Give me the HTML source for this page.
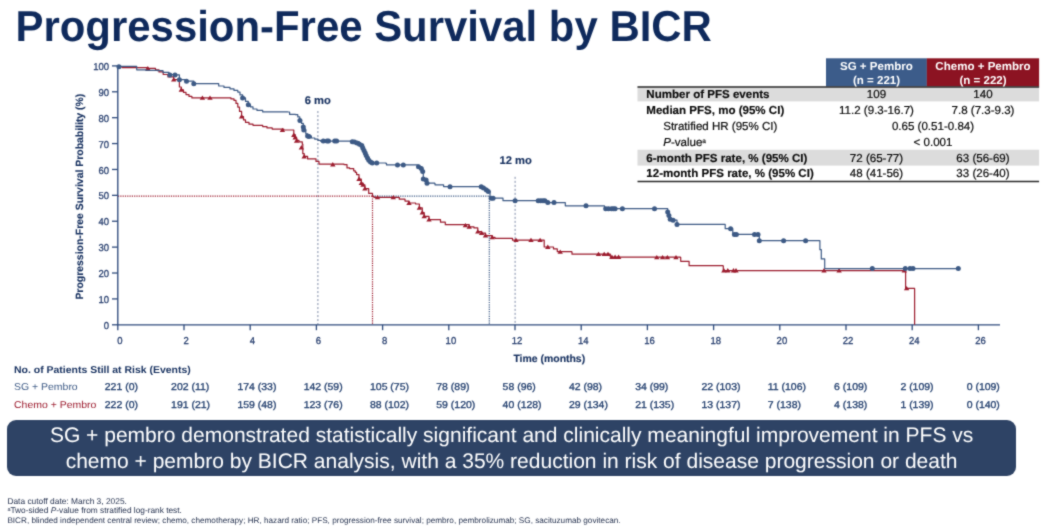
<!DOCTYPE html>
<html><head><meta charset="utf-8"><title>Progression-Free Survival by BICR</title>
<style>
html,body{margin:0;padding:0;background:#fff}
body{width:1045px;height:526px;position:relative;overflow:hidden;text-rendering:geometricPrecision;font-family:"Liberation Sans",Arial,sans-serif}
#title{position:absolute;left:15.5px;top:2px;transform:translateY(-0.3px) scaleY(1.03);transform-origin:50% 50%;font-size:41.92px;font-weight:bold;color:#0f2a5c;line-height:50px;white-space:nowrap;letter-spacing:0}
#banner{position:absolute;left:7.4px;top:420.1px;width:1008.4px;height:55.5px;background:#2e4365;border-radius:9px;color:#fff;font-size:21.03px;line-height:26.2px;text-align:center;white-space:nowrap}
#banner div{position:absolute;left:0;right:0;transform:translateY(0.7px)}
#foot{position:absolute;left:7.4px;top:496.8px;transform:translateY(-0.3px);font-size:8.2px;line-height:9.2px;color:#1f2c4a;white-space:nowrap}
#foot span{display:block;height:9.25px;line-height:9.25px}
#foot sup{font-size:5.5px;vertical-align:baseline;position:relative;top:-2.5px}
#wrap{position:absolute;left:0;top:0;width:1045px;height:526px;filter:url(#bl);background:#fff}
</style></head><body><svg width="0" height="0" style="position:absolute"><filter id="bl" x="0" y="0" width="100%" height="100%" color-interpolation-filters="sRGB"><feConvolveMatrix order="3" kernelMatrix="1 3 1 3 16 3 1 3 1" divisor="32" edgeMode="duplicate" preserveAlpha="true"/></filter></svg><div id="wrap">
<div id="title">Progression-Free Survival by BICR</div>
<svg width="1045" height="526" viewBox="0 0 1045 526" style="position:absolute;left:0;top:0" text-rendering="geometricPrecision" font-family="'Liberation Sans', Arial, sans-serif">
<line x1="317.9" y1="111" x2="317.9" y2="324.8" stroke="#3a4f7a" stroke-width="0.85" stroke-opacity="0.75" stroke-dasharray="2.1 1.9"/>
<line x1="515.1" y1="176.8" x2="515.1" y2="324.8" stroke="#3a4f7a" stroke-width="0.85" stroke-opacity="0.75" stroke-dasharray="2.1 1.9"/>
<line x1="372.5" y1="196.1" x2="489.3" y2="196.1" stroke="#3d5a85" stroke-width="1.2" stroke-dasharray="1.2 1.1"/>
<line x1="489.3" y1="196.1" x2="489.3" y2="324.8" stroke="#3d5a85" stroke-width="1.2" stroke-dasharray="1.2 1.1"/>
<line x1="118" y1="196.1" x2="372.5" y2="196.1" stroke="#9c1c2e" stroke-width="1.2" stroke-dasharray="1.2 1.1"/>
<line x1="372.5" y1="196.1" x2="372.5" y2="324.8" stroke="#9c1c2e" stroke-width="1.2" stroke-dasharray="1.2 1.1"/>
<path d="M117.8,65.3V324.8H1000" fill="none" stroke="#2f4b7c" stroke-width="1.35"/>
<line x1="112" y1="324.80" x2="117.8" y2="324.80" stroke="#2f4b7c" stroke-width="1.3"/>
<text transform="translate(109,328.90) scale(0.95,1)" text-anchor="end" font-size="10" fill="#2a4170" stroke="#2a4170" stroke-width="0.3">0</text>
<line x1="112" y1="298.91" x2="117.8" y2="298.91" stroke="#2f4b7c" stroke-width="1.3"/>
<text transform="translate(109,303.01) scale(0.95,1)" text-anchor="end" font-size="10" fill="#2a4170" stroke="#2a4170" stroke-width="0.3">10</text>
<line x1="112" y1="273.02" x2="117.8" y2="273.02" stroke="#2f4b7c" stroke-width="1.3"/>
<text transform="translate(109,277.12) scale(0.95,1)" text-anchor="end" font-size="10" fill="#2a4170" stroke="#2a4170" stroke-width="0.3">20</text>
<line x1="112" y1="247.13" x2="117.8" y2="247.13" stroke="#2f4b7c" stroke-width="1.3"/>
<text transform="translate(109,251.23) scale(0.95,1)" text-anchor="end" font-size="10" fill="#2a4170" stroke="#2a4170" stroke-width="0.3">30</text>
<line x1="112" y1="221.24" x2="117.8" y2="221.24" stroke="#2f4b7c" stroke-width="1.3"/>
<text transform="translate(109,225.34) scale(0.95,1)" text-anchor="end" font-size="10" fill="#2a4170" stroke="#2a4170" stroke-width="0.3">40</text>
<line x1="112" y1="195.35" x2="117.8" y2="195.35" stroke="#2f4b7c" stroke-width="1.3"/>
<text transform="translate(109,199.45) scale(0.95,1)" text-anchor="end" font-size="10" fill="#2a4170" stroke="#2a4170" stroke-width="0.3">50</text>
<line x1="112" y1="169.46" x2="117.8" y2="169.46" stroke="#2f4b7c" stroke-width="1.3"/>
<text transform="translate(109,173.56) scale(0.95,1)" text-anchor="end" font-size="10" fill="#2a4170" stroke="#2a4170" stroke-width="0.3">60</text>
<line x1="112" y1="143.57" x2="117.8" y2="143.57" stroke="#2f4b7c" stroke-width="1.3"/>
<text transform="translate(109,147.67) scale(0.95,1)" text-anchor="end" font-size="10" fill="#2a4170" stroke="#2a4170" stroke-width="0.3">70</text>
<line x1="112" y1="117.68" x2="117.8" y2="117.68" stroke="#2f4b7c" stroke-width="1.3"/>
<text transform="translate(109,121.78) scale(0.95,1)" text-anchor="end" font-size="10" fill="#2a4170" stroke="#2a4170" stroke-width="0.3">80</text>
<line x1="112" y1="91.79" x2="117.8" y2="91.79" stroke="#2f4b7c" stroke-width="1.3"/>
<text transform="translate(109,95.89) scale(0.95,1)" text-anchor="end" font-size="10" fill="#2a4170" stroke="#2a4170" stroke-width="0.3">90</text>
<line x1="112" y1="65.90" x2="117.8" y2="65.90" stroke="#2f4b7c" stroke-width="1.3"/>
<text transform="translate(109,70.00) scale(0.95,1)" text-anchor="end" font-size="10" fill="#2a4170" stroke="#2a4170" stroke-width="0.3">100</text>
<line x1="117.80" y1="324.8" x2="117.80" y2="330.2" stroke="#2f4b7c" stroke-width="1.3"/>
<text transform="translate(119.90,344) scale(0.95,1)" text-anchor="middle" font-size="10" fill="#2a4170" stroke="#2a4170" stroke-width="0.3">0</text>
<line x1="184.00" y1="324.8" x2="184.00" y2="330.2" stroke="#2f4b7c" stroke-width="1.3"/>
<text transform="translate(186.10,344) scale(0.95,1)" text-anchor="middle" font-size="10" fill="#2a4170" stroke="#2a4170" stroke-width="0.3">2</text>
<line x1="250.20" y1="324.8" x2="250.20" y2="330.2" stroke="#2f4b7c" stroke-width="1.3"/>
<text transform="translate(252.30,344) scale(0.95,1)" text-anchor="middle" font-size="10" fill="#2a4170" stroke="#2a4170" stroke-width="0.3">4</text>
<line x1="316.40" y1="324.8" x2="316.40" y2="330.2" stroke="#2f4b7c" stroke-width="1.3"/>
<text transform="translate(318.50,344) scale(0.95,1)" text-anchor="middle" font-size="10" fill="#2a4170" stroke="#2a4170" stroke-width="0.3">6</text>
<line x1="382.60" y1="324.8" x2="382.60" y2="330.2" stroke="#2f4b7c" stroke-width="1.3"/>
<text transform="translate(384.70,344) scale(0.95,1)" text-anchor="middle" font-size="10" fill="#2a4170" stroke="#2a4170" stroke-width="0.3">8</text>
<line x1="448.80" y1="324.8" x2="448.80" y2="330.2" stroke="#2f4b7c" stroke-width="1.3"/>
<text transform="translate(450.90,344) scale(0.95,1)" text-anchor="middle" font-size="10" fill="#2a4170" stroke="#2a4170" stroke-width="0.3">10</text>
<line x1="515.00" y1="324.8" x2="515.00" y2="330.2" stroke="#2f4b7c" stroke-width="1.3"/>
<text transform="translate(517.10,344) scale(0.95,1)" text-anchor="middle" font-size="10" fill="#2a4170" stroke="#2a4170" stroke-width="0.3">12</text>
<line x1="581.20" y1="324.8" x2="581.20" y2="330.2" stroke="#2f4b7c" stroke-width="1.3"/>
<text transform="translate(583.30,344) scale(0.95,1)" text-anchor="middle" font-size="10" fill="#2a4170" stroke="#2a4170" stroke-width="0.3">14</text>
<line x1="647.40" y1="324.8" x2="647.40" y2="330.2" stroke="#2f4b7c" stroke-width="1.3"/>
<text transform="translate(649.50,344) scale(0.95,1)" text-anchor="middle" font-size="10" fill="#2a4170" stroke="#2a4170" stroke-width="0.3">16</text>
<line x1="713.60" y1="324.8" x2="713.60" y2="330.2" stroke="#2f4b7c" stroke-width="1.3"/>
<text transform="translate(715.70,344) scale(0.95,1)" text-anchor="middle" font-size="10" fill="#2a4170" stroke="#2a4170" stroke-width="0.3">18</text>
<line x1="779.80" y1="324.8" x2="779.80" y2="330.2" stroke="#2f4b7c" stroke-width="1.3"/>
<text transform="translate(781.90,344) scale(0.95,1)" text-anchor="middle" font-size="10" fill="#2a4170" stroke="#2a4170" stroke-width="0.3">20</text>
<line x1="846.00" y1="324.8" x2="846.00" y2="330.2" stroke="#2f4b7c" stroke-width="1.3"/>
<text transform="translate(848.10,344) scale(0.95,1)" text-anchor="middle" font-size="10" fill="#2a4170" stroke="#2a4170" stroke-width="0.3">22</text>
<line x1="912.20" y1="324.8" x2="912.20" y2="330.2" stroke="#2f4b7c" stroke-width="1.3"/>
<text transform="translate(914.30,344) scale(0.95,1)" text-anchor="middle" font-size="10" fill="#2a4170" stroke="#2a4170" stroke-width="0.3">24</text>
<line x1="978.40" y1="324.8" x2="978.40" y2="330.2" stroke="#2f4b7c" stroke-width="1.3"/>
<text transform="translate(980.50,344) scale(0.95,1)" text-anchor="middle" font-size="10" fill="#2a4170" stroke="#2a4170" stroke-width="0.3">26</text>
<path d="M117.8,66.7H122.0V67.6H143.0V67.6H147.8V68.4H155.5V69.8H159.0V71.9H163.2V74.5H168.0V76.9H173.7V79.7H178.5V81.2H179.4V87.0H181.3V89.8H183.5V92.4H186.0V94.6H189.0V96.4H191.9V97.9H228.2V97.9H231.0V98.9H234.0V100.4H236.0V103.4H237.8V107.1H239.5V111.4H241.6V116.6H243.5V119.9H245.5V122.4H249.0V124.2H253.0V125.3H262.7V126.6H267.0V127.9H272.2V129.1H283.7V130.0H292.4V130.0H293.8V134.6H295.2V137.4H296.6V140.4H299.0V141.8H302.3V144.2H302.8V153.7H304.2V156.4H307.6V158.9H313.7V158.9H316.0V161.4H319.0V164.1H344.0V164.6H347.0V167.9H349.6V168.6H353.7V170.8H355.3V172.4H356.6V174.6H359.0V179.1H361.3V183.2H363.0V184.9H364.9V188.7H368.7V193.4H372.5V196.4H374.0V197.4H395.0V197.4H399.3V199.2H405.0V201.1H409.0V203.0H415.6V204.0H419.4V207.8H422.3V212.6H424.2V216.4H429.0V219.7H439.5V219.7H440.5V222.2H445.3V224.7H464.4V224.7H469.2V226.9H474.0V227.9H477.8V231.7H481.6V233.1H485.5V235.6H492.2V237.4H495.0V238.4H512.2V238.4H512.5V240.2H543.9V240.2H544.2V247.0H549.0V247.0H553.5V248.9H557.3V251.7H571.7V251.9H572.0V254.2H610.0V254.2H610.3V257.1H680.4V257.4H680.7V261.3H688.8V261.3H689.1V265.7H723.0V265.9H723.3V270.6H905.3V270.6H905.6V288.4H914.3V288.4H914.6V324.7" fill="none" stroke="#9c1c2e" stroke-width="1.2" stroke-linejoin="round"/>
<path d="M145.1,70.3H150.5L147.8,65.9Z" fill="#9c1c2e"/>
<path d="M171.0,81.6H176.4L173.7,77.2Z" fill="#9c1c2e"/>
<path d="M178.6,91.7H184.0L181.3,87.3Z" fill="#9c1c2e"/>
<path d="M199.7,99.8H205.1L202.4,95.4Z" fill="#9c1c2e"/>
<path d="M207.3,99.8H212.7L210.0,95.4Z" fill="#9c1c2e"/>
<path d="M238.9,118.5H244.3L241.6,114.1Z" fill="#9c1c2e"/>
<path d="M279.7,132.1H285.1L282.4,127.7Z" fill="#9c1c2e"/>
<path d="M291.1,137.0H296.5L293.8,132.6Z" fill="#9c1c2e"/>
<path d="M292.5,139.4H297.9L295.2,135.0Z" fill="#9c1c2e"/>
<path d="M293.9,142.7H299.3L296.6,138.3Z" fill="#9c1c2e"/>
<path d="M298.7,149.4H304.1L301.4,145.0Z" fill="#9c1c2e"/>
<path d="M301.5,158.4H306.9L304.2,154.0Z" fill="#9c1c2e"/>
<path d="M330.1,166.5H335.5L332.8,162.1Z" fill="#9c1c2e"/>
<path d="M356.3,181.0H361.7L359.0,176.6Z" fill="#9c1c2e"/>
<path d="M358.6,185.1H364.0L361.3,180.7Z" fill="#9c1c2e"/>
<path d="M360.3,186.8H365.7L363.0,182.4Z" fill="#9c1c2e"/>
<path d="M362.2,190.6H367.6L364.9,186.2Z" fill="#9c1c2e"/>
<path d="M374.8,199.3H380.2L377.5,194.9Z" fill="#9c1c2e"/>
<path d="M390.6,199.3H396.0L393.3,194.9Z" fill="#9c1c2e"/>
<path d="M406.3,204.9H411.7L409.0,200.5Z" fill="#9c1c2e"/>
<path d="M416.7,209.7H422.1L419.4,205.3Z" fill="#9c1c2e"/>
<path d="M419.6,214.5H425.0L422.3,210.1Z" fill="#9c1c2e"/>
<path d="M421.5,218.3H426.9L424.2,213.9Z" fill="#9c1c2e"/>
<path d="M426.3,221.6H431.7L429.0,217.2Z" fill="#9c1c2e"/>
<path d="M462.7,227.3H468.1L465.4,222.9Z" fill="#9c1c2e"/>
<path d="M466.5,228.8H471.9L469.2,224.4Z" fill="#9c1c2e"/>
<path d="M475.1,233.6H480.5L477.8,229.2Z" fill="#9c1c2e"/>
<path d="M478.9,235.0H484.3L481.6,230.6Z" fill="#9c1c2e"/>
<path d="M482.8,237.5H488.2L485.5,233.1Z" fill="#9c1c2e"/>
<path d="M489.5,239.3H494.9L492.2,234.9Z" fill="#9c1c2e"/>
<path d="M513.3,242.1H518.7L516.0,237.7Z" fill="#9c1c2e"/>
<path d="M528.3,242.1H533.7L531.0,237.7Z" fill="#9c1c2e"/>
<path d="M537.4,242.1H542.8L540.1,237.7Z" fill="#9c1c2e"/>
<path d="M545.1,248.9H550.5L547.8,244.5Z" fill="#9c1c2e"/>
<path d="M557.5,253.8H562.9L560.2,249.4Z" fill="#9c1c2e"/>
<path d="M595.8,256.1H601.2L598.5,251.7Z" fill="#9c1c2e"/>
<path d="M601.5,256.1H606.9L604.2,251.7Z" fill="#9c1c2e"/>
<path d="M605.3,256.1H610.7L608.0,251.7Z" fill="#9c1c2e"/>
<path d="M609.2,259.0H614.6L611.9,254.6Z" fill="#9c1c2e"/>
<path d="M612.4,259.0H617.8L615.1,254.6Z" fill="#9c1c2e"/>
<path d="M615.9,259.0H621.3L618.6,254.6Z" fill="#9c1c2e"/>
<path d="M654.1,259.3H659.5L656.8,254.9Z" fill="#9c1c2e"/>
<path d="M659.9,259.3H665.3L662.6,254.9Z" fill="#9c1c2e"/>
<path d="M664.7,259.3H670.1L667.4,254.9Z" fill="#9c1c2e"/>
<path d="M673.3,259.3H678.7L676.0,254.9Z" fill="#9c1c2e"/>
<path d="M721.2,272.5H726.6L723.9,268.1Z" fill="#9c1c2e"/>
<path d="M725.1,272.5H730.5L727.8,268.1Z" fill="#9c1c2e"/>
<path d="M730.8,272.5H736.2L733.5,268.1Z" fill="#9c1c2e"/>
<path d="M733.3,272.5H738.7L736.0,268.1Z" fill="#9c1c2e"/>
<path d="M821.3,272.5H826.7L824.0,268.1Z" fill="#9c1c2e"/>
<path d="M836.4,272.5H841.8L839.1,268.1Z" fill="#9c1c2e"/>
<path d="M901.6,272.5H907.0L904.3,268.1Z" fill="#9c1c2e"/>
<path d="M903.9,290.3H909.3L906.6,285.9Z" fill="#9c1c2e"/>
<path d="M117.8,66.3H133.9V66.3H136.7V69.8H146.0V70.4H157.4V70.7H163.0V72.4H169.0V74.5H175.0V74.9H179.4V79.7H186.5V81.2H193.8V83.7H211.0V83.7H218.7V86.0H224.0V87.4H230.0V88.9H234.0V90.4H237.8V92.1H240.0V94.9H242.6V97.9H245.5V101.4H248.3V104.8H250.5V106.9H253.0V109.0H257.0V110.4H262.7V111.9H287.7V112.0H289.6V114.4H295.5V114.7H297.8V116.9H299.8V119.9H301.5V123.4H303.3V127.1H303.8V129.9H305.8V133.9H307.6V136.1H311.4V138.0H314.8V139.2H318.0V140.4H320.5V141.1H351.8V141.1H355.0V141.9H359.5V144.2H361.8V145.4H362.8V147.9H364.0V150.4H365.2V152.9H366.2V155.4H367.5V157.9H368.8V160.2H370.5V161.9H372.3V163.0H386.0V163.4H386.5V164.9H417.5V165.1H418.5V166.7H421.3V168.6H422.7V171.4H423.3V179.1H426.1V180.1H427.0V183.2H434.7V183.4H435.0V184.8H443.3V184.8H443.6V186.6H480.7V186.8H483.5V188.1H486.4V190.0H488.3V191.5H490.0V198.2H502.7V198.2H503.0V200.7H546.0V200.7H546.3V202.6H565.0V202.6H565.3V205.8H604.2V205.8H604.5V208.7H667.4V208.7H667.7V212.1H668.9V215.4H670.2V219.2H673.1V220.2H677.0V224.4H724.9V224.4H725.2V228.7H732.5V228.7H732.8V234.4H759.0V234.4H759.3V240.7H819.6V240.7H819.9V249.7H821.0V249.7H821.3V258.9H824.4V258.9H824.7V268.6H958.3V268.6" fill="none" stroke="#3d5a85" stroke-width="1.2" stroke-linejoin="round"/>
<circle cx="118.9" cy="66.8" r="2.5" fill="#3d5a85"/>
<circle cx="169.9" cy="74.9" r="2.5" fill="#3d5a85"/>
<circle cx="175.0" cy="74.9" r="2.5" fill="#3d5a85"/>
<circle cx="179.4" cy="79.7" r="2.5" fill="#3d5a85"/>
<circle cx="186.5" cy="81.2" r="2.5" fill="#3d5a85"/>
<circle cx="193.8" cy="83.7" r="2.5" fill="#3d5a85"/>
<circle cx="242.6" cy="97.9" r="2.5" fill="#3d5a85"/>
<circle cx="248.3" cy="104.8" r="2.5" fill="#3d5a85"/>
<circle cx="299.9" cy="120.4" r="2.5" fill="#3d5a85"/>
<circle cx="303.3" cy="127.1" r="2.5" fill="#3d5a85"/>
<circle cx="303.8" cy="129.9" r="2.5" fill="#3d5a85"/>
<circle cx="307.6" cy="136.1" r="2.5" fill="#3d5a85"/>
<circle cx="309.0" cy="136.6" r="2.5" fill="#3d5a85"/>
<circle cx="323.3" cy="141.0" r="2.5" fill="#3d5a85"/>
<circle cx="327.0" cy="141.1" r="2.5" fill="#3d5a85"/>
<circle cx="328.5" cy="141.1" r="2.5" fill="#3d5a85"/>
<circle cx="334.7" cy="141.1" r="2.5" fill="#3d5a85"/>
<circle cx="336.6" cy="141.1" r="2.5" fill="#3d5a85"/>
<circle cx="352.3" cy="141.7" r="2.5" fill="#3d5a85"/>
<circle cx="354.5" cy="141.9" r="2.5" fill="#3d5a85"/>
<circle cx="357.0" cy="142.9" r="2.5" fill="#3d5a85"/>
<circle cx="359.5" cy="144.2" r="2.5" fill="#3d5a85"/>
<circle cx="361.8" cy="145.4" r="2.5" fill="#3d5a85"/>
<circle cx="362.8" cy="147.9" r="2.5" fill="#3d5a85"/>
<circle cx="364.0" cy="150.4" r="2.5" fill="#3d5a85"/>
<circle cx="365.2" cy="152.9" r="2.5" fill="#3d5a85"/>
<circle cx="366.2" cy="155.4" r="2.5" fill="#3d5a85"/>
<circle cx="367.5" cy="157.9" r="2.5" fill="#3d5a85"/>
<circle cx="368.8" cy="160.2" r="2.5" fill="#3d5a85"/>
<circle cx="370.5" cy="161.9" r="2.5" fill="#3d5a85"/>
<circle cx="372.3" cy="163.0" r="2.5" fill="#3d5a85"/>
<circle cx="376.7" cy="163.0" r="2.5" fill="#3d5a85"/>
<circle cx="397.5" cy="165.1" r="2.5" fill="#3d5a85"/>
<circle cx="403.3" cy="165.1" r="2.5" fill="#3d5a85"/>
<circle cx="418.5" cy="166.7" r="2.5" fill="#3d5a85"/>
<circle cx="421.3" cy="168.6" r="2.5" fill="#3d5a85"/>
<circle cx="422.7" cy="171.4" r="2.5" fill="#3d5a85"/>
<circle cx="423.3" cy="179.1" r="2.5" fill="#3d5a85"/>
<circle cx="426.1" cy="180.1" r="2.5" fill="#3d5a85"/>
<circle cx="427.0" cy="183.2" r="2.5" fill="#3d5a85"/>
<circle cx="450.0" cy="186.8" r="2.5" fill="#3d5a85"/>
<circle cx="481.2" cy="186.8" r="2.5" fill="#3d5a85"/>
<circle cx="483.5" cy="188.1" r="2.5" fill="#3d5a85"/>
<circle cx="486.4" cy="190.0" r="2.5" fill="#3d5a85"/>
<circle cx="488.3" cy="191.5" r="2.5" fill="#3d5a85"/>
<circle cx="491.2" cy="198.2" r="2.5" fill="#3d5a85"/>
<circle cx="493.1" cy="198.2" r="2.5" fill="#3d5a85"/>
<circle cx="515.1" cy="200.7" r="2.5" fill="#3d5a85"/>
<circle cx="538.2" cy="200.7" r="2.5" fill="#3d5a85"/>
<circle cx="540.7" cy="200.7" r="2.5" fill="#3d5a85"/>
<circle cx="543.0" cy="200.7" r="2.5" fill="#3d5a85"/>
<circle cx="544.9" cy="200.7" r="2.5" fill="#3d5a85"/>
<circle cx="547.8" cy="202.6" r="2.5" fill="#3d5a85"/>
<circle cx="554.0" cy="202.6" r="2.5" fill="#3d5a85"/>
<circle cx="586.0" cy="205.8" r="2.5" fill="#3d5a85"/>
<circle cx="605.7" cy="208.7" r="2.5" fill="#3d5a85"/>
<circle cx="608.4" cy="208.7" r="2.5" fill="#3d5a85"/>
<circle cx="611.5" cy="208.7" r="2.5" fill="#3d5a85"/>
<circle cx="613.4" cy="208.7" r="2.5" fill="#3d5a85"/>
<circle cx="615.1" cy="208.7" r="2.5" fill="#3d5a85"/>
<circle cx="622.4" cy="208.7" r="2.5" fill="#3d5a85"/>
<circle cx="654.5" cy="208.7" r="2.5" fill="#3d5a85"/>
<circle cx="667.7" cy="212.1" r="2.5" fill="#3d5a85"/>
<circle cx="668.9" cy="215.4" r="2.5" fill="#3d5a85"/>
<circle cx="670.2" cy="219.2" r="2.5" fill="#3d5a85"/>
<circle cx="673.1" cy="220.2" r="2.5" fill="#3d5a85"/>
<circle cx="677.0" cy="224.4" r="2.5" fill="#3d5a85"/>
<circle cx="730.6" cy="228.7" r="2.5" fill="#3d5a85"/>
<circle cx="734.4" cy="234.4" r="2.5" fill="#3d5a85"/>
<circle cx="736.4" cy="234.4" r="2.5" fill="#3d5a85"/>
<circle cx="754.5" cy="234.4" r="2.5" fill="#3d5a85"/>
<circle cx="758.0" cy="234.4" r="2.5" fill="#3d5a85"/>
<circle cx="759.3" cy="240.7" r="2.5" fill="#3d5a85"/>
<circle cx="783.6" cy="240.7" r="2.5" fill="#3d5a85"/>
<circle cx="805.6" cy="240.7" r="2.5" fill="#3d5a85"/>
<circle cx="872.3" cy="268.6" r="2.5" fill="#3d5a85"/>
<circle cx="905.3" cy="268.6" r="2.5" fill="#3d5a85"/>
<circle cx="910.0" cy="268.6" r="2.5" fill="#3d5a85"/>
<circle cx="913.0" cy="268.6" r="2.5" fill="#3d5a85"/>
<circle cx="958.3" cy="268.6" r="2.5" fill="#3d5a85"/>
<text x="317.8" y="103.7" text-anchor="middle" font-size="11.2" font-weight="bold" fill="#16305f" stroke="#16305f" stroke-width="0.15">6 mo</text>
<text x="515.6" y="163.7" text-anchor="middle" font-size="11.2" font-weight="bold" fill="#16305f" stroke="#16305f" stroke-width="0.15">12 mo</text>
<text transform="translate(83.3,196.65) rotate(-90)" text-anchor="middle" font-size="10.45" font-weight="bold" fill="#16305f" stroke="#16305f" stroke-width="0.15">Progression-Free Survival Probability (%)</text>
<text x="549.3" y="362" text-anchor="middle" font-size="10.45" font-weight="bold" fill="#16305f" stroke="#16305f" stroke-width="0.15">Time (months)</text>
<text transform="translate(14.0,372.8) scale(1.053,1)" font-size="9.95" font-weight="bold" fill="#16305f">No. of Patients Still at Risk (Events)</text>
<text transform="translate(14.0,390.3) scale(1.053,1)" font-size="9.95" fill="#3d5a85">SG + Pembro</text>
<text transform="translate(14.0,407.8) scale(1.053,1)" font-size="9.95" fill="#9c1c2e">Chemo + Pembro</text>
<text transform="translate(104.8,390.4) scale(1.053,1)" font-size="9.95" fill="#24406f" stroke="#24406f" stroke-width="0.3">221 (0)</text>
<text transform="translate(104.8,407.5) scale(1.053,1)" font-size="9.95" fill="#24406f" stroke="#24406f" stroke-width="0.3">222 (0)</text>
<text transform="translate(171.1,390.4) scale(1.053,1)" font-size="9.95" fill="#24406f" stroke="#24406f" stroke-width="0.3">202 (11)</text>
<text transform="translate(171.1,407.5) scale(1.053,1)" font-size="9.95" fill="#24406f" stroke="#24406f" stroke-width="0.3">191 (21)</text>
<text transform="translate(237.4,390.4) scale(1.053,1)" font-size="9.95" fill="#24406f" stroke="#24406f" stroke-width="0.3">174 (33)</text>
<text transform="translate(237.4,407.5) scale(1.053,1)" font-size="9.95" fill="#24406f" stroke="#24406f" stroke-width="0.3">159 (48)</text>
<text transform="translate(303.7,390.4) scale(1.053,1)" font-size="9.95" fill="#24406f" stroke="#24406f" stroke-width="0.3">142 (59)</text>
<text transform="translate(303.7,407.5) scale(1.053,1)" font-size="9.95" fill="#24406f" stroke="#24406f" stroke-width="0.3">123 (76)</text>
<text transform="translate(370.0,390.4) scale(1.053,1)" font-size="9.95" fill="#24406f" stroke="#24406f" stroke-width="0.3">105 (75)</text>
<text transform="translate(370.0,407.5) scale(1.053,1)" font-size="9.95" fill="#24406f" stroke="#24406f" stroke-width="0.3">88 (102)</text>
<text transform="translate(436.3,390.4) scale(1.053,1)" font-size="9.95" fill="#24406f" stroke="#24406f" stroke-width="0.3">78 (89)</text>
<text transform="translate(436.3,407.5) scale(1.053,1)" font-size="9.95" fill="#24406f" stroke="#24406f" stroke-width="0.3">59 (120)</text>
<text transform="translate(502.6,390.4) scale(1.053,1)" font-size="9.95" fill="#24406f" stroke="#24406f" stroke-width="0.3">58 (96)</text>
<text transform="translate(502.6,407.5) scale(1.053,1)" font-size="9.95" fill="#24406f" stroke="#24406f" stroke-width="0.3">40 (128)</text>
<text transform="translate(568.9,390.4) scale(1.053,1)" font-size="9.95" fill="#24406f" stroke="#24406f" stroke-width="0.3">42 (98)</text>
<text transform="translate(568.9,407.5) scale(1.053,1)" font-size="9.95" fill="#24406f" stroke="#24406f" stroke-width="0.3">29 (134)</text>
<text transform="translate(635.2,390.4) scale(1.053,1)" font-size="9.95" fill="#24406f" stroke="#24406f" stroke-width="0.3">34 (99)</text>
<text transform="translate(635.2,407.5) scale(1.053,1)" font-size="9.95" fill="#24406f" stroke="#24406f" stroke-width="0.3">21 (135)</text>
<text transform="translate(701.5,390.4) scale(1.053,1)" font-size="9.95" fill="#24406f" stroke="#24406f" stroke-width="0.3">22 (103)</text>
<text transform="translate(701.5,407.5) scale(1.053,1)" font-size="9.95" fill="#24406f" stroke="#24406f" stroke-width="0.3">13 (137)</text>
<text transform="translate(767.8,390.4) scale(1.053,1)" font-size="9.95" fill="#24406f" stroke="#24406f" stroke-width="0.3">11 (106)</text>
<text transform="translate(767.8,407.5) scale(1.053,1)" font-size="9.95" fill="#24406f" stroke="#24406f" stroke-width="0.3">7 (138)</text>
<text transform="translate(834.1,390.4) scale(1.053,1)" font-size="9.95" fill="#24406f" stroke="#24406f" stroke-width="0.3">6 (109)</text>
<text transform="translate(834.1,407.5) scale(1.053,1)" font-size="9.95" fill="#24406f" stroke="#24406f" stroke-width="0.3">4 (138)</text>
<text transform="translate(900.4,390.4) scale(1.053,1)" font-size="9.95" fill="#24406f" stroke="#24406f" stroke-width="0.3">2 (109)</text>
<text transform="translate(900.4,407.5) scale(1.053,1)" font-size="9.95" fill="#24406f" stroke="#24406f" stroke-width="0.3">1 (139)</text>
<text transform="translate(966.7,390.4) scale(1.053,1)" font-size="9.95" fill="#24406f" stroke="#24406f" stroke-width="0.3">0 (109)</text>
<text transform="translate(966.7,407.5) scale(1.053,1)" font-size="9.95" fill="#24406f" stroke="#24406f" stroke-width="0.3">0 (140)</text>
<rect x="637.5" y="86.5" width="401.6" height="14.9" fill="#dcdcdc"/>
<rect x="637.5" y="149.7" width="401.6" height="15.9" fill="#dcdcdc"/>
<rect x="826" y="58.3" width="100.9" height="28.2" fill="#3c5c8a"/>
<rect x="926.8" y="58.3" width="112.3" height="28.2" fill="#8c1322"/>
<line x1="637.5" y1="87.1" x2="1039.1" y2="87.1" stroke="#2a2a2a" stroke-width="1.5"/>
<line x1="637.5" y1="181.5" x2="1039.1" y2="181.5" stroke="#2a2a2a" stroke-width="1.6"/>
<g font-size="11.55" font-weight="bold" fill="#fff" text-anchor="middle"><text x="876.4" y="70.1">SG + Pembro</text><text x="876.5" y="83.6">(n = 221)</text><text x="983" y="70.1">Chemo + Pembro</text><text x="983" y="83.6">(n = 222)</text></g>
<text x="646.3" y="98.1" font-size="11.55" font-weight="bold" fill="#0a0a0a" stroke="#0a0a0a" stroke-width="0.15">Number of PFS events</text>
<text x="646.3" y="113.9" font-size="11.55" font-weight="bold" fill="#0a0a0a" stroke="#0a0a0a" stroke-width="0.15">Median PFS, mo (95% CI)</text>
<text x="663.2" y="129.5" font-size="11.55" fill="#0a0a0a" stroke="#0a0a0a" stroke-width="0.2">Stratified HR (95% CI)</text>
<text x="663.2" y="145.8" font-size="11.55" fill="#0a0a0a" stroke="#0a0a0a" stroke-width="0.2"><tspan font-style="italic">P</tspan>-value<tspan font-size="6.5" dy="-3">a</tspan></text>
<text x="646.3" y="161.6" font-size="11.55" font-weight="bold" fill="#0a0a0a" stroke="#0a0a0a" stroke-width="0.15">6-month PFS rate, % (95% CI)</text>
<text x="646.3" y="177.3" font-size="11.55" font-weight="bold" fill="#0a0a0a" stroke="#0a0a0a" stroke-width="0.15">12-month PFS rate, % (95% CI)</text>
<text x="876.5" y="98.1" font-size="11.55" fill="#0a0a0a" stroke="#0a0a0a" stroke-width="0.2" text-anchor="middle">109</text>
<text x="983" y="98.1" font-size="11.55" fill="#0a0a0a" stroke="#0a0a0a" stroke-width="0.2" text-anchor="middle">140</text>
<text x="876.5" y="113.9" font-size="11.55" fill="#0a0a0a" stroke="#0a0a0a" stroke-width="0.2" text-anchor="middle">11.2 (9.3-16.7)</text>
<text x="983" y="113.9" font-size="11.55" fill="#0a0a0a" stroke="#0a0a0a" stroke-width="0.2" text-anchor="middle">7.8 (7.3-9.3)</text>
<text x="933" y="129.5" font-size="11.55" fill="#0a0a0a" stroke="#0a0a0a" stroke-width="0.2" text-anchor="middle">0.65 (0.51-0.84)</text>
<text x="933" y="145.8" font-size="11.55" fill="#0a0a0a" stroke="#0a0a0a" stroke-width="0.2" text-anchor="middle">&lt; 0.001</text>
<text x="876.5" y="161.6" font-size="11.55" fill="#0a0a0a" stroke="#0a0a0a" stroke-width="0.2" text-anchor="middle">72 (65-77)</text>
<text x="983" y="161.6" font-size="11.55" fill="#0a0a0a" stroke="#0a0a0a" stroke-width="0.2" text-anchor="middle">63 (56-69)</text>
<text x="876.5" y="177.3" font-size="11.55" fill="#0a0a0a" stroke="#0a0a0a" stroke-width="0.2" text-anchor="middle">48 (41-56)</text>
<text x="983" y="177.3" font-size="11.55" fill="#0a0a0a" stroke="#0a0a0a" stroke-width="0.2" text-anchor="middle">33 (26-40)</text>
</svg>

<div id="banner"><div style="top:2.3px">SG + pembro demonstrated statistically significant and clinically meaningful improvement in PFS vs</div><div style="top:28.1px">chemo + pembro by BICR analysis, with a 35% reduction in risk of disease progression or death</div></div>
<div id="foot"><span style="font-size:8.4px">Data cutoff date: March 3, 2025.</span><span style="font-size:8.32px"><sup>a</sup>Two-sided <i>P</i>-value from stratified log-rank test.</span><span style="font-size:8.18px;margin-top:0.7px">BICR, blinded independent central review; chemo, chemotherapy; HR, hazard ratio; PFS, progression-free survival; pembro, pembrolizumab; SG, sacituzumab govitecan.</span></div>
</div></body></html>
